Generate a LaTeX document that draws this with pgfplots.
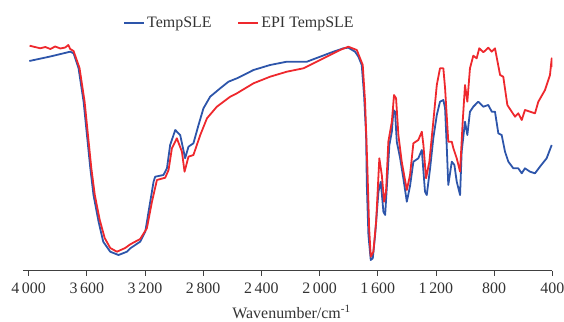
\documentclass[border=0pt]{standalone}
\usepackage{fontspec}
\setmainfont{Liberation Serif}
\usepackage{pgfplots}
\usepackage{pgfplotstable}
\pgfplotsset{compat=1.18}
\definecolor{cblue}{RGB}{45,85,170}
\definecolor{cred}{RGB}{238,40,45}
\pgfplotstableread{
w y
3995 209
3851 213.5
3714 218.3
3691 216.7
3657 202
3622 168.3
3599 135
3576 102
3554 75
3519 48.3
3487 28.3
3439 18.3
3382 15
3324 18.3
3301 21.7
3233 28.3
3198 38.3
3164 68.3
3141 88.3
3130 93.3
3073 95
3049 101.7
3027 125
2992 140
2958 135
2924 111.7
2901 123.3
2867 126.7
2832 145
2798 161.7
2752 173.3
2683 181.7
2626 188.3
2568 191.7
2454 200
2340 205
2225 208.3
2087 208.3
1996 213.3
1905 218.3
1836 221.7
1802 222.3
1756 218.3
1733 213.3
1710 205
1694 175
1680 135
1675 85
1664 35
1648 10
1634 11.7
1618 35
1595 78.3
1579 88.3
1561 58.3
1549 55
1538 81.7
1520 125
1503 138.3
1492 160
1481 158.3
1469 128.3
1446 111.7
1424 91.7
1400 68.3
1378 84
1355 108.3
1321 111.7
1297 120
1275 78.3
1263 75
1240 101.7
1218 131.7
1194 155
1172 168.3
1149 170
1137 161.7
1126 125
1115 85
1091 108.3
1073 105
1057 88.3
1034 75
1023 118.3
1000 148.3
984 135
966 158.3
943 163.3
909 168.3
874 163.3
840 165
816 158.3
794 158.3
771 136.7
748 135
725 118.3
702 108.3
668 101.7
634 101.7
610 96.7
588 101.7
553 98.3
519 96.7
485 103.3
439 111.7
404 125
}\tblue
\pgfplotstableread{
w y
3993 224.3
3920 221.7
3885 223
3851 221
3817 223.5
3782 221.5
3748 222.5
3727 225
3714 221
3691 219
3650 202
3615 168.3
3592 135
3569 102
3545 75
3511 50
3477 32
3439 22
3393 18.3
3336 22
3301 25.7
3233 31
3187 41.7
3152 68.3
3118 90
3061 92.3
3038 100
3015 121.7
2981 131.7
2946 118.3
2928 98.3
2901 113.3
2867 115
2820 135
2774 151.7
2706 163.3
2614 173.3
2568 176.7
2454 186.7
2340 193.3
2225 198.3
2111 201.7
2019 208.3
1927 215
1859 220
1802 223.3
1744 220
1703 205
1687 168.3
1671 101.7
1659 41.7
1648 13.3
1630 18.3
1611 48.3
1589 111.7
1572 95
1556 68.3
1543 78.3
1527 128.3
1503 148.3
1488 175
1474 171.7
1458 135
1435 108.3
1400 80
1378 95
1355 126.7
1321 130
1297 138.3
1286 125
1268 91.7
1245 108.3
1218 148.3
1194 185
1172 201.7
1149 201.7
1137 181.7
1115 128.3
1091 128.3
1080 121.7
1057 111.7
1034 98.3
1016 148.3
1000 185
984 168.3
966 201.7
943 214.3
920 211.7
902 221.7
874 217.7
840 222.3
816 218.3
794 221.7
759 195
737 193.3
709 165
679 158.3
656 153.3
634 156.7
610 150
588 160
553 158.3
519 156.7
496 168.3
450 180
416 195
404 211.7
400 203
}\tred
\begin{document}
\fontsize{16}{19}\selectfont
\begin{tikzpicture}
\path[use as bounding box] (-22.8bp,-51.3bp) rectangle (541.2bp,270.7bp);
\begin{axis}[
  scale only axis, width=529.5bp, height=240.7bp,
  xmin=400, xmax=4040, ymin=-0.7, ymax=240,
  x dir=reverse,
  axis x line=bottom, axis y line=none,
  x axis line style={-, line width=0.8pt, color=black!75},
  xtick={400,800,...,4000},
  tick align=outside, major tick length=5bp,
  xtick style={line width=0.8pt, color=black!75},
  /pgf/number format/assume math mode=true,
  /pgf/number format/1000 sep={\,},
  xticklabel style={font=\fontsize{16}{19}\selectfont, text=black!80, yshift=-2bp},
  xlabel={Wavenumber/cm\textsuperscript{-1}},
  xlabel style={font=\fontsize{16}{19}\selectfont, text=black!80, at={(axis description cs:0.5075,-0.1700)}, anchor=center},
  legend columns=2,
  legend style={draw=none, fill=none, font=\fontsize{16}{19}\selectfont, text=black!80,
    at={(0.4093,1.0291)}, anchor=center,
    /tikz/every even column/.append style={column sep=24bp}},
  legend image code/.code={\draw[#1, line width=1.8pt] (0bp,0bp) -- (20bp,0bp);},
]
\addplot[cblue, line width=1.8pt, line join=round] table[x=w, y=y] {\tblue};
\addlegendentry{TempSLE}
\addplot[cred, line width=1.8pt, line join=round] table[x=w, y=y] {\tred};
\addlegendentry{EPI TempSLE}
\end{axis}
\end{tikzpicture}
\end{document}
